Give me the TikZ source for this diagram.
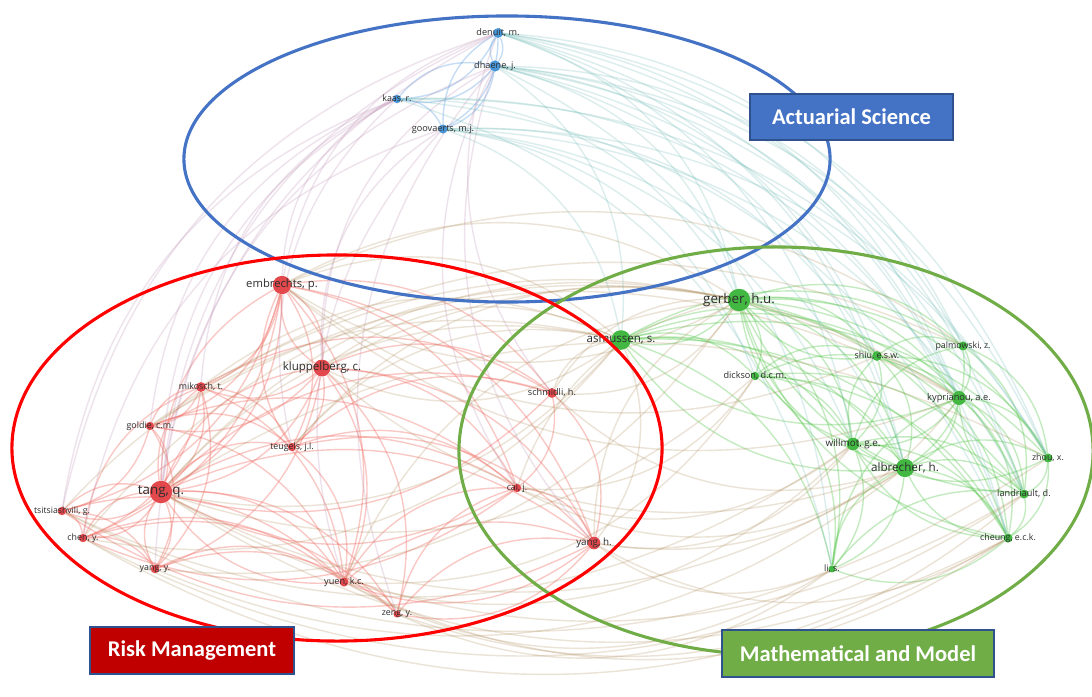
\documentclass[tikz,border=0pt]{standalone}
\usepackage{fontspec}
\newfontfamily\labfont{Open Sans}
\newfontfamily\boxfont{Carlito}
\usetikzlibrary{backgrounds}
\definecolor{dotred}{RGB}{226,72,76}
\definecolor{dotgreen}{RGB}{66,184,66}
\definecolor{dotblue}{RGB}{72,150,215}
\definecolor{linkred}{RGB}{240,105,95}
\definecolor{linkgreen}{RGB}{90,200,80}
\definecolor{linkblue}{RGB}{95,160,226}
\definecolor{linkrg}{RGB}{172,138,86}
\definecolor{linkrb}{RGB}{186,138,176}
\definecolor{linkgb}{RGB}{105,184,180}
\definecolor{labgray}{RGB}{45,45,45}
\definecolor{clblue}{RGB}{68,114,196}
\definecolor{clred}{RGB}{255,0,0}
\definecolor{clgreen}{RGB}{112,173,71}
\definecolor{tagred}{RGB}{192,0,0}
\definecolor{tagline}{RGB}{47,82,143}
\tikzset{%
  lnk/.style = {draw=#1, line width=1pt, opacity=.36},
  faint/.style = {draw=#1, line width=1pt, opacity=.24},
  dotr/.style = {circle, inner sep=0pt, fill=dotred},
  dotg/.style = {circle, inner sep=0pt, fill=dotgreen},
  dotb/.style = {circle, inner sep=0pt, fill=dotblue},
  lab/.style = {text=labgray, inner sep=0pt,
        font=\labfont\fontsize{#1}{#1}\selectfont},
  cluster/.style = {draw=#1, line width=2.2pt},
  tag/.style = {rectangle, draw=tagline, line width=.9pt, text=white,
        inner sep=0pt, font=\boxfont\bfseries\fontsize{16}{18}\selectfont}
}

\begin{document}
\begin{tikzpicture}[x=0.025cm, y=-0.025cm]
\useasboundingbox (0,0) rectangle (1092,697);

% actuarial science cluster
\node[dotb, minimum size=7pt, label={[lab=6.5]center:denuit, m.}] (denuit) at (498,33) {};
\node[dotb, minimum size=8pt, label={[lab=6.5]center:dhaene, j.}] (dhaene) at (495,66) {};
\node[dotb, minimum size=6pt, label={[lab=6.3]center:kaas, r.}] (kaas) at (397,99) {};
\node[dotb, minimum size=6.5pt, label={[lab=6.5]center:goovaerts, m.j.}] (goovaerts) at (443,129) {};

% risk management cluster
\node[dotr, minimum size=13pt, label={[lab=8]center:embrechts, p.}] (embrechts) at (282,285) {};
\node[dotr, minimum size=12pt, label={[lab=8.2]center:kluppelberg, c.}] (kluppelberg) at (322,368) {};
\node[dotr, minimum size=7pt, label={[lab=6.3]center:mikosch, t.}] (mikosch) at (201,387) {};
\node[dotr, minimum size=6pt, label={[lab=6.3]center:goldie, c.m.}] (goldie) at (150,426) {};
\node[dotr, minimum size=6pt, label={[lab=6.3]center:teugels, j.l.}] (teugels) at (292,447) {};
\node[dotr, minimum size=16pt, label={[lab=9.5]center:tang, q.}] (tang) at (161,492) {};
\node[dotr, minimum size=6pt, label={[lab=6.2]center:tsitsiashvili, g.}] (tsitsi) at (62,511) {};
\node[dotr, minimum size=6pt, label={[lab=6.3]center:chen, y.}] (cheny) at (83,538) {};
\node[dotr, minimum size=6pt, label={[lab=6.3]center:yang, y.}] (yangy) at (155,569) {};
\node[dotr, minimum size=6.5pt, label={[lab=6.5]center:yuen, k.c.}] (yuen) at (344,582) {};
\node[dotr, minimum size=5pt, label={[lab=6.3]center:zeng, y.}] (zeng) at (397,614) {};
\node[dotr, minimum size=7pt, label={[lab=6.5]center:schmidli, h.}] (schmidli) at (552,393) {};
\node[dotr, minimum size=6pt, label={[lab=6.3]center:cai, j.}] (cai) at (517,488) {};
\node[dotr, minimum size=9pt, label={[lab=7]center:yang, h.}] (yangh) at (594,543) {};

% mathematical cluster
\node[dotg, minimum size=16pt, label={[lab=9.5]center:gerber, h.u.}] (gerber) at (739,300) {};
\node[dotg, minimum size=14pt, label={[lab=8.2]center:asmussen, s.}] (asmussen) at (621,340) {};
\node[dotg, minimum size=6pt, label={[lab=6.5]center:dickson, d.c.m.}] (dickson) at (755,376) {};
\node[dotg, minimum size=7pt, label={[lab=6.3]center:shiu, e.s.w.}] (shiu) at (877,356) {};
\node[dotg, minimum size=6.5pt, label={[lab=6.3]center:palmowski, z.}] (palmowski) at (963,346) {};
\node[dotg, minimum size=10pt, label={[lab=6.6]center:kyprianou, a.e.}] (kyprianou) at (959,398) {};
\node[dotg, minimum size=9pt, label={[lab=7]center:willmot, g.e.}] (willmot) at (853,444) {};
\node[dotg, minimum size=13pt, label={[lab=8.3]center:albrecher, h.}] (albrecher) at (905,468) {};
\node[dotg, minimum size=6.5pt, label={[lab=6.3]center:zhou, x.}] (zhou) at (1048,458) {};
\node[dotg, minimum size=6.5pt, label={[lab=6.5]center:landriault, d.}] (landriault) at (1024,494) {};
\node[dotg, minimum size=6.5pt, label={[lab=6.3]center:cheung, e.c.k.}] (cheung) at (1008,538) {};
\node[dotg, minimum size=5pt, label={[lab=6.3]center:li, s.}] (lis) at (832,569) {};

% links
\begin{scope}[on background layer]
\fill[white] (0,0) rectangle (1092,697);
\foreach \a/\b in {denuit/dhaene, denuit/kaas, denuit/goovaerts, dhaene/kaas,
    dhaene/goovaerts, kaas/goovaerts, kaas/dhaene, goovaerts/denuit, dhaene/denuit}
  \draw[lnk=linkblue] (\a) to[bend left=30] (\b);
\foreach \a/\b in {embrechts/kluppelberg, embrechts/mikosch, embrechts/goldie,
    embrechts/tang, embrechts/teugels, embrechts/cheny, embrechts/tsitsi,
    kluppelberg/mikosch, kluppelberg/tang, kluppelberg/teugels, kluppelberg/goldie,
    kluppelberg/yuen, kluppelberg/yangy, mikosch/tang, mikosch/goldie, mikosch/teugels,
    mikosch/cheny, goldie/tang, goldie/teugels, goldie/tsitsi, goldie/yangy,
    tang/tsitsi, tang/cheny, tang/yangy, tang/teugels, tang/yuen, tang/zeng, tang/cai,
    tang/yangh, tang/schmidli, tsitsi/cheny, tsitsi/yangy, cheny/yangy, cheny/yuen,
    yangy/yuen, yuen/zeng, yuen/cai, yuen/yangh, zeng/yangh, zeng/cai, schmidli/cai,
    schmidli/yangh, cai/yangh, teugels/yuen, teugels/yangh, embrechts/schmidli,
    embrechts/yangh, kluppelberg/schmidli, kluppelberg/cai, mikosch/yangy, cheny/zeng,
    tsitsi/yuen, yangy/zeng, mikosch/yuen, goldie/cai, teugels/schmidli,
    embrechts/yuen, kluppelberg/zeng, yangh/tsitsi, cai/cheny, kluppelberg/embrechts,
    tang/embrechts, tang/mikosch, tang/kluppelberg, yangh/yuen, cai/tang, yuen/tang,
    tsitsi/tang, cheny/tang, teugels/embrechts, goldie/mikosch, yangh/zeng,
    schmidli/tang, yangy/tang, mikosch/schmidli, goldie/yuen, embrechts/cai,
    kluppelberg/yangh, teugels/cai, cheny/mikosch}
  \draw[lnk=linkred] (\a) to[bend left=30] (\b);
\foreach \a/\b in {gerber/asmussen, gerber/dickson, gerber/shiu, gerber/willmot,
    gerber/albrecher, gerber/landriault, gerber/cheung, gerber/kyprianou,
    gerber/palmowski, gerber/lis, gerber/zhou, asmussen/dickson, asmussen/albrecher,
    asmussen/kyprianou, asmussen/willmot, asmussen/palmowski, asmussen/lis,
    dickson/willmot, dickson/shiu, dickson/albrecher, dickson/lis, dickson/cheung,
    shiu/willmot, shiu/albrecher, shiu/cheung, shiu/landriault, shiu/palmowski,
    palmowski/kyprianou, palmowski/zhou, palmowski/albrecher, kyprianou/albrecher,
    kyprianou/zhou, kyprianou/landriault, kyprianou/willmot, willmot/albrecher,
    willmot/cheung, willmot/landriault, willmot/lis, albrecher/landriault,
    albrecher/cheung, albrecher/zhou, albrecher/lis, zhou/landriault, zhou/cheung,
    landriault/cheung, cheung/lis, lis/kyprianou, asmussen/cheung, asmussen/zhou,
    dickson/landriault, shiu/zhou, willmot/palmowski, albrecher/gerber,
    willmot/gerber, cheung/gerber, landriault/gerber, albrecher/asmussen,
    kyprianou/asmussen, shiu/gerber, albrecher/willmot, cheung/albrecher,
    landriault/kyprianou, willmot/shiu, lis/albrecher, cheung/willmot,
    dickson/kyprianou, asmussen/shiu, palmowski/landriault, kyprianou/cheung,
    zhou/willmot, lis/landriault}
  \draw[lnk=linkgreen] (\a) to[bend left=30] (\b);
\foreach \a/\b in {embrechts/denuit, tang/dhaene, kluppelberg/goovaerts, goldie/kaas,
    teugels/kaas, tsitsi/kaas, cheny/goovaerts, yuen/goovaerts, cai/dhaene,
    yangh/dhaene, schmidli/denuit, mikosch/kaas, yangy/denuit, zeng/dhaene,
    tang/denuit, embrechts/kaas, tang/kaas, tsitsi/denuit, kluppelberg/dhaene}
  \draw[faint=linkrb] (\a) to[bend left=30] (\b);
\foreach \a/\b in {dhaene/gerber, dhaene/asmussen, dhaene/albrecher, denuit/willmot,
    goovaerts/dickson, kaas/gerber, goovaerts/willmot, dhaene/shiu, denuit/zhou,
    dhaene/landriault, dhaene/cheung, denuit/kyprianou, denuit/palmowski,
    goovaerts/albrecher, kaas/lis, dhaene/lis, denuit/cheung, goovaerts/asmussen,
    kaas/zhou, denuit/gerber, dhaene/zhou, goovaerts/zhou, kaas/cheung,
    goovaerts/landriault, dhaene/palmowski, kaas/kyprianou, denuit/albrecher,
    denuit/landriault, dhaene/kyprianou, goovaerts/shiu}
  \draw[faint=linkgb] (\a) to[bend left=30] (\b);
\foreach \a/\b in {schmidli/asmussen, schmidli/gerber, albrecher/schmidli,
    asmussen/yangh, yangh/gerber, cai/gerber, dickson/cai, willmot/cai,
    embrechts/asmussen, embrechts/gerber, kluppelberg/asmussen, albrecher/kluppelberg,
    kluppelberg/kyprianou, tang/asmussen, tang/gerber, albrecher/tang, yuen/gerber,
    dickson/yuen, willmot/yuen, lis/zeng, lis/yangh, cheung/yangh, mikosch/asmussen,
    goldie/kyprianou, teugels/asmussen, teugels/gerber, tsitsi/asmussen, cheny/gerber,
    albrecher/yangy, willmot/yangh, zhou/tsitsi, cheung/cheny, goldie/palmowski,
    tang/zhou, cheung/tang, landriault/tang, embrechts/palmowski, mikosch/kyprianou,
    shiu/embrechts, dickson/tang, lis/yuen, cheung/yuen, landriault/zeng,
    gerber/yangy, asmussen/cheny, kyprianou/yangh, gerber/schmidli, asmussen/tang,
    gerber/embrechts, asmussen/kluppelberg, albrecher/cai, willmot/tsitsi,
    landriault/cheny, kyprianou/embrechts}
  \draw[faint=linkrg] (\a) to[bend left=30] (\b);
\end{scope}

% clusters
\draw[cluster=clblue] (507,159) ellipse [x radius=8.075cm, y radius=3.575cm];
\draw[cluster=clgreen] (776,451) ellipse [x radius=7.925cm, y radius=5.1cm];
\draw[cluster=clred] (337,448) ellipse [x radius=8.125cm, y radius=4.825cm];

% tags
\node[tag, fill=clblue, minimum width=5.075cm, minimum height=1.15cm] (actuarial) at (851.5,117) {Actuarial Science};
\node[tag, fill=tagred, minimum width=5.1cm, minimum height=1.175cm] (risk) at (192,650.5) {Risk Management};
\node[tag, fill=clgreen, minimum width=6.8cm, minimum height=1.175cm] (math) at (858,653.5) {Mathematical and Model};
\end{tikzpicture}
\end{document}
